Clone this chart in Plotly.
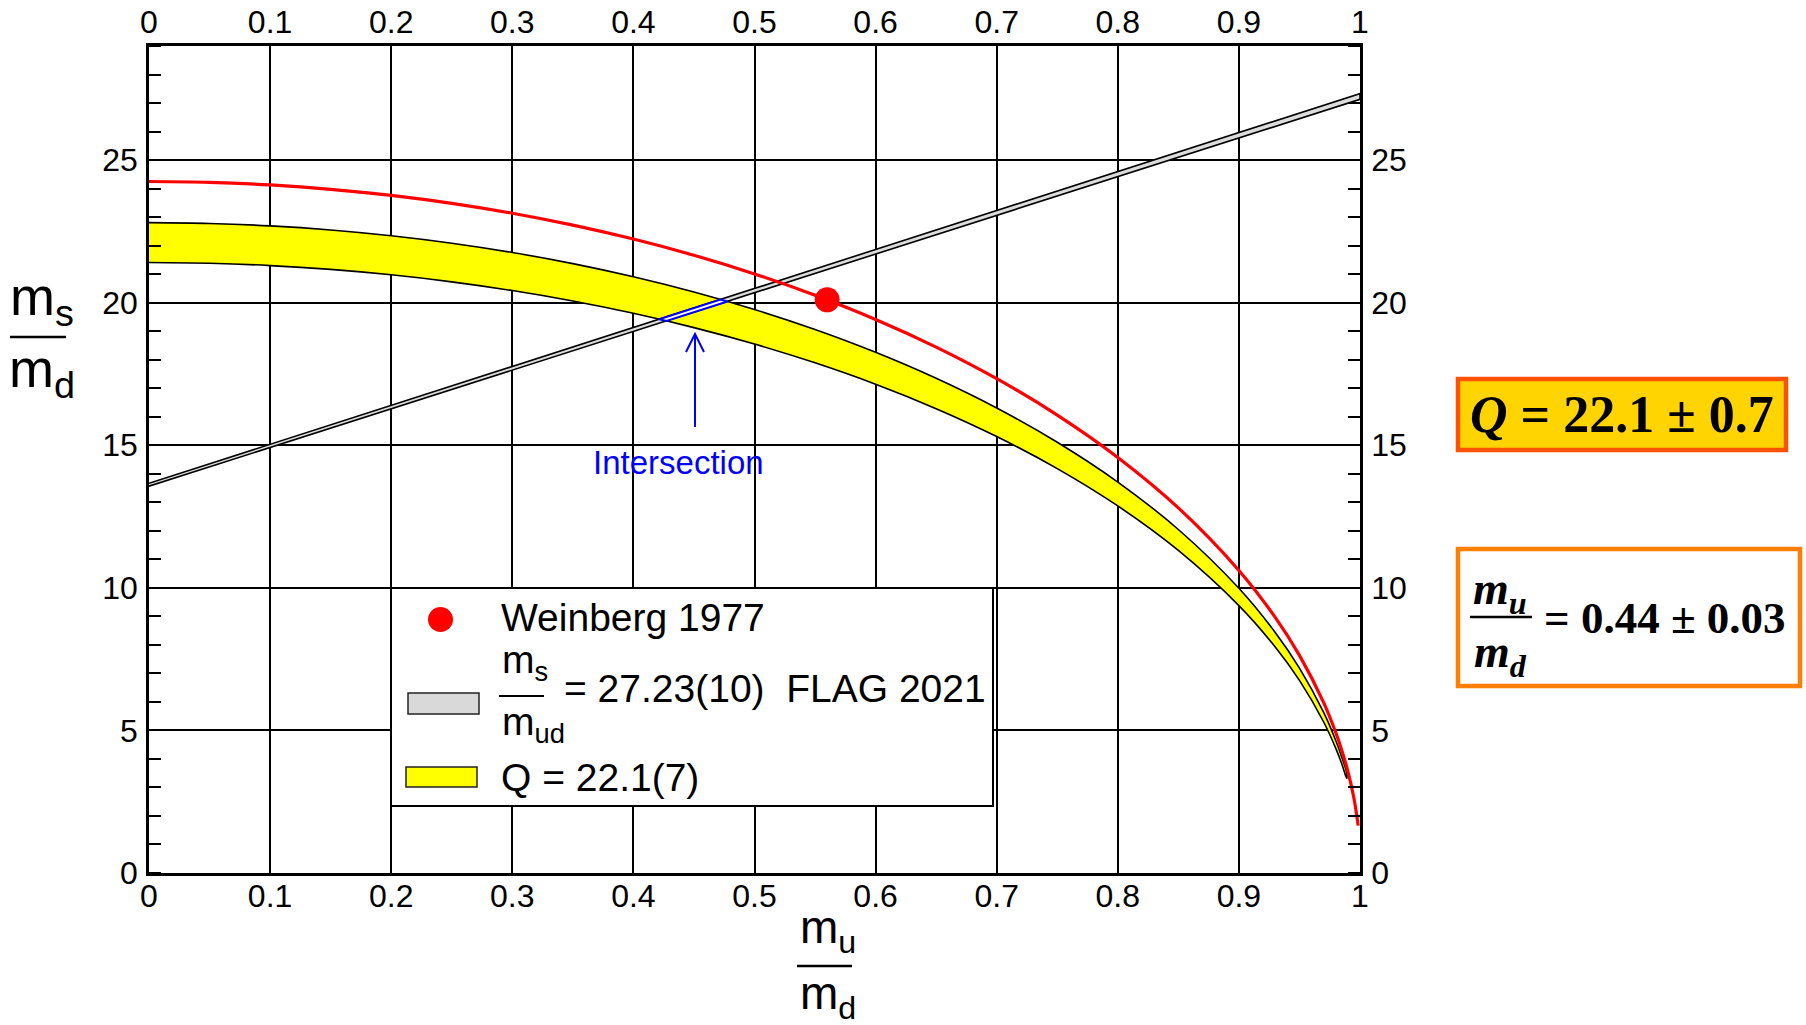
import plotly.graph_objects as go

# ---------------------------------------------------------------------------
# Data
# ---------------------------------------------------------------------------
# m_u/m_d sample points along the Leutwyler ellipse band Q = 22.1(7)
mu_md = [0, 0.05, 0.1, 0.15, 0.2, 0.25, 0.3, 0.35, 0.4, 0.45, 0.5, 0.55,
         0.6, 0.65, 0.7, 0.75, 0.8, 0.85, 0.9, 0.93, 0.95, 0.97, 0.98,
         0.985, 0.989]
# m_s/m_d on the upper (Q = 22.8) and lower (Q = 21.4) edge of the band
q_upper = [22.805, 22.778, 22.692, 22.549, 22.347, 22.085, 21.760, 21.369,
           20.908, 20.374, 19.760, 19.057, 18.257, 17.346, 16.305, 15.106,
           13.710, 12.046, 9.984, 8.436, 7.186, 5.630, 4.644, 4.057, 3.516]
q_lower = [21.406, 21.380, 21.300, 21.166, 20.976, 20.730, 20.424, 20.058,
           19.626, 19.125, 18.548, 17.889, 17.139, 16.283, 15.306, 14.182,
           12.872, 11.311, 9.376, 7.925, 6.753, 5.295, 4.372, 3.824, 3.318]

# Ellipse through Weinberg's 1977 values
weinberg_curve_x = [0, 0.05, 0.1, 0.15, 0.2, 0.25, 0.3, 0.35, 0.4, 0.45,
                    0.5, 0.55, 0.6, 0.65, 0.7, 0.75, 0.8, 0.85, 0.9, 0.93,
                    0.95, 0.97, 0.98, 0.985, 0.99, 0.995, 0.9985]
weinberg_curve_y = [24.248, 24.218, 24.127, 23.975, 23.760, 23.481, 23.135,
                    22.719, 22.230, 21.662, 21.008, 20.261, 19.411, 18.441,
                    17.334, 16.059, 14.573, 12.804, 10.610, 8.963, 7.632,
                    5.975, 4.925, 4.299, 3.562, 2.619, 1.661]
weinberg_point_x = [0.56]
weinberg_point_y = [20.1]

# m_s/m_ud = 27.23(10), FLAG 2021: straight band across the plot
ratio_x = [0, 1]
ratio_hi = [13.665, 27.33]
ratio_lo = [13.565, 27.13]

# Overlap of the two bands (corners)
overlap_x = [0.4213, 0.4719, 0.4777, 0.4273]
overlap_y = [19.42, 20.107, 20.04, 19.36]

x_ticks = [0, 0.1, 0.2, 0.3, 0.4, 0.5, 0.6, 0.7, 0.8, 0.9, 1]
x_tick_text = ["0", "0.1", "0.2", "0.3", "0.4", "0.5", "0.6", "0.7", "0.8", "0.9", "1"]
y_ticks = [0, 5, 10, 15, 20, 25]
y_tick_text = ["0", "5", "10", "15", "20", "25"]

# ---------------------------------------------------------------------------
# Layout geometry (pixels)
# ---------------------------------------------------------------------------
W, H = 1806, 1025
PL, PR, PT, PB = 149, 1360, 46, 873
SANS = "Liberation Sans, Arial, Helvetica, sans-serif"
SERIF = "Liberation Serif, Times New Roman, serif"


def px(x):
    return (x - PL) / (PR - PL)


def py(y):
    return (PB - y) / (PB - PT)


fig = go.Figure()

# Q band
fig.add_trace(go.Scatter(
    x=mu_md + mu_md[::-1], y=q_upper + q_lower[::-1],
    mode="lines", fill="toself", fillcolor="#FFFF00",
    line=dict(color="black", width=1.6, shape="spline", smoothing=1.0),
    hoverinfo="skip", showlegend=False))

# m_s/m_ud band
fig.add_trace(go.Scatter(
    x=ratio_x + ratio_x[::-1], y=ratio_hi + ratio_lo[::-1],
    mode="lines", fill="toself", fillcolor="#DCDCDC",
    line=dict(color="black", width=1.6), hoverinfo="skip", showlegend=False))

# Weinberg ellipse
fig.add_trace(go.Scatter(
    x=weinberg_curve_x, y=weinberg_curve_y, mode="lines",
    line=dict(color="#FF0000", width=3.2, shape="spline", smoothing=1.0),
    hoverinfo="skip", showlegend=False))

# Overlap region
fig.add_trace(go.Scatter(
    x=overlap_x + overlap_x[:1], y=overlap_y + overlap_y[:1],
    mode="lines", fill="toself", fillcolor="white",
    line=dict(color="#0000FF", width=2), hoverinfo="skip", showlegend=False))

# Weinberg 1977 point
fig.add_trace(go.Scatter(
    x=weinberg_point_x, y=weinberg_point_y, mode="markers",
    marker=dict(color="#FF0000", size=25, line=dict(width=0)),
    hoverinfo="skip", showlegend=False))

# helper trace for the mirrored top/right axes
fig.add_trace(go.Scatter(x=[0.5], y=[10], xaxis="x2", yaxis="y2", mode="markers",
                         marker=dict(opacity=0), hoverinfo="skip", showlegend=False))

tickfont = dict(family=SANS, size=32, color="black")
common_x = dict(range=[0, 1], tickmode="array", tickvals=x_ticks, ticktext=x_tick_text,
                showline=True, linecolor="black", linewidth=2.5, ticks="",
                tickfont=tickfont, zeroline=False,
                fixedrange=True, automargin=False)
common_y = dict(range=[0, 29], tickmode="array", tickvals=y_ticks, ticktext=y_tick_text,
                showline=True, linecolor="black", linewidth=2.5, ticks="",
                tickfont=tickfont, zeroline=False, ticklabelstandoff=2,
                fixedrange=True, automargin=False,
                minor=dict(dtick=1, tick0=0, ticks="inside", ticklen=12,
                           tickwidth=2, tickcolor="black", showgrid=False))

fig.update_layout(
    template="none",
    width=W, height=H,
    margin=dict(l=PL, r=W - PR, t=PT, b=H - PB, pad=0, autoexpand=False),
    paper_bgcolor="white", plot_bgcolor="white",
    showlegend=False,
    xaxis=dict(**common_x, showgrid=True, gridcolor="black", gridwidth=1.6,
               ticklabelstandoff=-7),
    yaxis=dict(**common_y, showgrid=True, gridcolor="black", gridwidth=1.6),
    xaxis2=dict(**common_x, overlaying="x", side="top", anchor="y", showgrid=False,
                ticklabelstandoff=-3),
    yaxis2=dict(**common_y, overlaying="y", side="right", anchor="x", showgrid=False),
)

shapes = []
annotations = []


def text(x, y, s, size, color="black", family=SANS, xanchor="center", yanchor="middle"):
    annotations.append(dict(x=px(x), y=py(y), xref="paper", yref="paper", text=s,
                            showarrow=False, xanchor=xanchor, yanchor=yanchor,
                            font=dict(family=family, size=size, color=color)))


def hline(x0, x1, y, width=2.5, color="black"):
    shapes.append(dict(type="line", xref="paper", yref="paper", x0=px(x0), x1=px(x1),
                       y0=py(y), y1=py(y), line=dict(color=color, width=width), layer="above"))


def rect(x0, y0, x1, y1, fill, color, width):
    shapes.append(dict(type="rect", xref="paper", yref="paper", x0=px(x0), x1=px(x1),
                       y0=py(y0), y1=py(y1), fillcolor=fill,
                       line=dict(color=color, width=width), layer="above"))


# Axis titles as stacked fractions
text(42, 300, "m<sub>s</sub>", 54)
hline(10, 66, 337)
text(42, 372, "m<sub>d</sub>", 54)

text(828, 930, "m<sub>u</sub>", 46)
hline(797, 852, 966)
text(828, 996, "m<sub>d</sub>", 46)

# Intersection arrow and label
shapes.append(dict(type="path", xref="paper", yref="paper",
                   path=f"M {px(695)} {py(427)} L {px(695)} {py(334)} "
                        f"M {px(686)} {py(352)} L {px(695)} {py(334)} L {px(704)} {py(352)}",
                   line=dict(color="#0000FF", width=2), layer="above"))
text(678, 462, "Intersection", 33, color="#0000FF")

# Legend box
rect(391, 588, 993, 806, "white", "black", 2)
shapes.append(dict(type="circle", xref="paper", yref="paper",
                   x0=px(428), x1=px(453), y0=py(607), y1=py(632),
                   fillcolor="#FF0000", line=dict(width=0), layer="above"))
text(499, 617, "Weinberg 1977", 39, xanchor="left")

rect(408, 693, 479, 714, "#D9D9D9", "#222222", 1.5)
text(525, 662, "m<sub>s</sub>", 39)
hline(499, 544, 696, width=2)
text(533, 724, "m<sub>ud</sub>", 39)
text(562, 688, "= 27.23(10)  FLAG 2021", 39, xanchor="left")

rect(406, 767, 477, 787, "#FFFF00", "#222222", 1.5)
text(499, 777, "Q = 22.1(7)", 39, xanchor="left")

# Result boxes on the right
rect(1458, 379, 1786, 450, "#FFD400", "#FF5200", 4.5)
text(1622, 414, "<b><i>Q</i> = 22.1 ± 0.7</b>", 52, family=SERIF)

rect(1458, 549, 1800, 686, "white", "#FF8000", 4.5)
text(1500, 592, "<b><i>m<sub>u</sub></i></b>", 46, family=SERIF)
hline(1470, 1532, 617, width=2.5)
text(1500, 655, "<b><i>m<sub>d</sub></i></b>", 46, family=SERIF)
text(1542, 618, "<b>= 0.44 ± 0.03</b>", 45, family=SERIF, xanchor="left")

fig.update_layout(shapes=shapes, annotations=annotations)

fig.write_html("out.html", config={"displayModeBar": False})
